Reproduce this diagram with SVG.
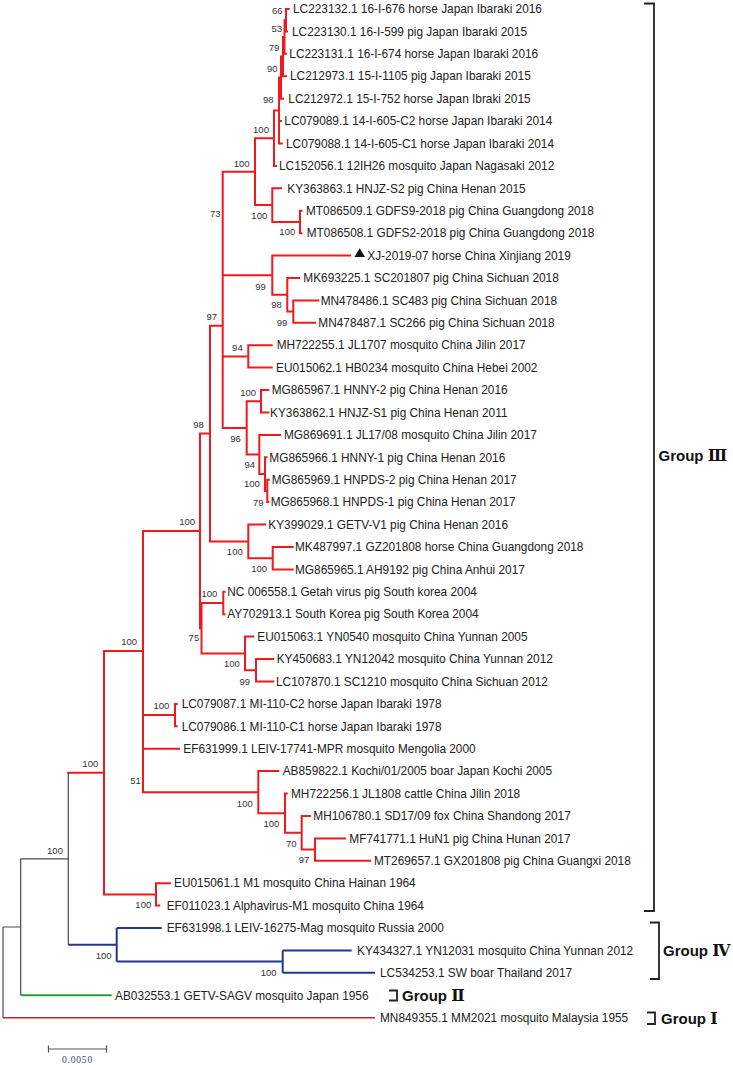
<svg xmlns="http://www.w3.org/2000/svg" width="733" height="1065" viewBox="0 0 733 1065">
<style>
.r{fill:none;stroke:#f0191e;stroke-width:2;stroke-linecap:square}
.k{fill:none;stroke:#4a4a4a;stroke-width:1.2}
.b{fill:none;stroke:#22359a;stroke-width:2}
.g{fill:none;stroke:#2e9a3a;stroke-width:2}
.dr{fill:none;stroke:#c0262c;stroke-width:1.6}
.br{fill:none;stroke:#222;stroke-width:1.8}
.t{font-family:"Liberation Sans",Arial,sans-serif;font-size:11.85px;fill:#222}
.bs{font-family:"Liberation Sans",Arial,sans-serif;font-size:9.5px;fill:#333;text-anchor:middle}
.grp{font-family:"Liberation Sans",Arial,sans-serif;font-size:15px;font-weight:bold;fill:#111}
.rn{font-family:"Liberation Serif","DejaVu Serif",serif;font-size:16px;font-weight:bold;fill:#111}
</style>
<g id="connectors">
<path class="r" d="M286,9V31.4M286,9H288.7M286,31.4H287
M284.5,20.2V53.8M284.5,20.2H286M284.5,53.8H286
M283,37V76.2M283,37H284.5M283,76.2H286
M281,56.6V98.7M281,56.6H283M281,98.7H283
M279,77.6V143.5M279,77.6H281M279,121.1H281M279,143.5H281.7
M274,110.6V165.9M274,110.6H279M274,165.9H276
M255,138.2V205.1M255,138.2H274M255,205.1H272.3
M272.3,188.3V222M272.3,188.3H281M272.3,222H300
M300,210.7V233.2M300,210.7H301.5M300,233.2H301.5
M222.7,171.7V427.9M222.7,171.7H255M222.7,275.2H272.3M222.7,356.4H248.3M222.7,427.9H246.7
M272.3,255.6V294.8M272.3,255.6H350M272.3,294.8H287.3
M287.3,278V311.6M287.3,278H299M287.3,311.6H293.3
M293.3,300.4V322.8M293.3,300.4H318.3M293.3,322.8H315
M248.3,345.2V367.6M248.3,345.2H271.7M248.3,367.6H271.7
M246.7,401.3V454.5M246.7,401.3H261M246.7,454.5H259.3
M261,390.1V412.5M261,390.1H268.3M261,412.5H268.3
M259.3,434.9V474.1M259.3,434.9H280M259.3,474.1H265
M265,457.3V490.9M265,457.3H266.5M265,490.9H267.3
M267.3,479.7V502.1M267.3,479.7H268.8M267.3,502.1H268.3
M210,325.7V541.4M210,325.7H222.7M210,541.4H248.3
M248.3,524.5V558.2M248.3,524.5H265M248.3,558.2H272.7
M272.7,547V569.4M272.7,547H292.7M272.7,569.4H292.7
M200,433.5V628.2M200,433.5H210M200,628.2H201.5
M201.5,603V653.4M201.5,603H223.3M201.5,653.4H245
M223.3,591.8V614.2M223.3,591.8H224.5M223.3,614.2H224.5
M245,636.6V670.2M245,636.6H253.3M245,670.2H256
M256,659V681.5M256,659H273.3M256,681.5H273.3
M143,530.9V792.2M143,530.9H200M143,715.1H175M143,748.7H179M143,792.2H258.3
M175,703.9V726.3M175,703.9H176.7M175,726.3H176.7
M258.3,771.1V813.2M258.3,771.1H278.3M258.3,813.2H285
M285,793.5V832.8M285,793.5H286.7M285,832.8H301.7
M301.7,815.9V849.6M301.7,815.9H310M301.7,849.6H315
M315,838.4V860.8M315,838.4H345M315,860.8H370
M104,651V894.4M104,651H143M104,894.4H156M68.3,772.7H104
M156,883.2V905.6M156,883.2H170M156,905.6H159.3"/>
<path class="k" d="M3,927V1017.7M3,927H20.7M20.7,858.8V995.3M20.7,858.8H68.3M68.3,772.7V944.8"/>
<path class="b" d="M68.3,944.8H116.7M116.7,928V961.6M116.7,928H161.7M116.7,961.6H282.7M282.7,950.4V972.8M282.7,950.4H351.7M282.7,972.8H375"/>
<path class="g" d="M20.7,995.3H111.7"/>
<path class="dr" d="M3,1017.7H375"/>
</g>
<g id="bootstrap" class="bs">
<text x="277.3" y="14.4">66</text>
<text x="276.7" y="31.7">53</text>
<text x="274" y="51.1">79</text>
<text x="272.3" y="72.4">90</text>
<text x="268.3" y="103.4">98</text>
<text x="261" y="133.4">100</text>
<text x="241.7" y="166.7">100</text>
<text x="215.3" y="217.4">73</text>
<text x="259.3" y="219.1">100</text>
<text x="287.3" y="235.1">100</text>
<text x="260.5" y="289.8">99</text>
<text x="276.6" y="308.4">98</text>
<text x="282" y="326.1">99</text>
<text x="211.7" y="320.1">97</text>
<text x="237.4" y="351.2">94</text>
<text x="248.2" y="395.7">100</text>
<text x="235.5" y="441.7">96</text>
<text x="249.7" y="468.4">94</text>
<text x="251.9" y="487.4">100</text>
<text x="258.3" y="505.7">79</text>
<text x="198.5" y="428.1">98</text>
<text x="187.2" y="525.1">100</text>
<text x="234.8" y="555.1">100</text>
<text x="259.2" y="571.7">100</text>
<text x="209.4" y="596.7">100</text>
<text x="193.9" y="641.1">75</text>
<text x="129.2" y="645.1">100</text>
<text x="231.9" y="667.4">100</text>
<text x="244.8" y="685.1">99</text>
<text x="161.4" y="709.4">100</text>
<text x="135.6" y="783.9">51</text>
<text x="244.8" y="806.7">100</text>
<text x="271.4" y="826.7">100</text>
<text x="291.2" y="847.1">70</text>
<text x="304.1" y="863.4">97</text>
<text x="90.3" y="766.6">100</text>
<text x="55" y="854.1">100</text>
<text x="143.3" y="908">100</text>
<text x="103.6" y="959.2">100</text>
<text x="268.6" y="976.1">100</text>
</g>
<g id="taxa" class="t">
<g id="n0"><text x="293" y="13.2">LC223132.1 16-I-676 horse Japan Ibaraki 2016</text></g>
<g id="n1"><text x="292" y="35.6">LC223130.1 16-I-599 pig Japan Ibaraki 2015</text></g>
<g id="n2"><text x="289.3" y="58">LC223131.1 16-I-674 horse Japan Ibaraki 2016</text></g>
<g id="n3"><text x="290" y="80.4">LC212973.1 15-I-1105 pig Japan Ibaraki 2015</text></g>
<g id="n4"><text x="288.3" y="102.9">LC212972.1 15-I-752 horse Japan Ibraki 2015</text></g>
<g id="n5"><text x="284.3" y="125.3">LC079089.1 14-I-605-C2 horse Japan Ibaraki 2014</text></g>
<g id="n6"><text x="286" y="147.7">LC079088.1 14-I-605-C1 horse Japan Ibaraki 2014</text></g>
<g id="n7"><text x="279" y="170.1">LC152056.1 12IH26 mosquito Japan Nagasaki 2012</text></g>
<g id="n8"><text x="287.3" y="192.5">KY363863.1 HNJZ-S2 pig China Henan 2015</text></g>
<g id="n9"><text x="306" y="214.9">MT086509.1 GDFS9-2018 pig China Guangdong 2018</text></g>
<g id="n10"><text x="306.7" y="237.4">MT086508.1 GDFS2-2018 pig China Guangdong 2018</text></g>
<g id="n11"><polygon points="354.5,257 365,257 359.7,248.3" fill="#111"/><text x="367.3" y="259.8">XJ-2019-07 horse China Xinjiang 2019</text></g>
<g id="n12"><text x="303.3" y="282.2">MK693225.1 SC201807 pig China Sichuan 2018</text></g>
<g id="n13"><text x="320.7" y="304.6">MN478486.1 SC483 pig China Sichuan 2018</text></g>
<g id="n14"><text x="318.3" y="327">MN478487.1 SC266 pig China Sichuan 2018</text></g>
<g id="n15"><text x="276.7" y="349.4">MH722255.1 JL1707 mosquito China Jilin 2017</text></g>
<g id="n16"><text x="276" y="371.8">EU015062.1 HB0234 mosquito China Hebei 2002</text></g>
<g id="n17"><text x="271.7" y="394.3">MG865967.1 HNNY-2 pig China Henan 2016</text></g>
<g id="n18"><text x="270" y="416.7">KY363862.1 HNJZ-S1 pig China Henan 2011</text></g>
<g id="n19"><text x="284" y="439.1">MG869691.1 JL17/08 mosquito China Jilin 2017</text></g>
<g id="n20"><text x="269.3" y="461.5">MG865966.1 HNNY-1 pig China Henan 2016</text></g>
<g id="n21"><text x="271.7" y="483.9">MG865969.1 HNPDS-2 pig China Henan 2017</text></g>
<g id="n22"><text x="270.7" y="506.3">MG865968.1 HNPDS-1 pig China Henan 2017</text></g>
<g id="n23"><text x="268.3" y="528.7">KY399029.1 GETV-V1 pig China Henan 2016</text></g>
<g id="n24"><text x="295" y="551.2">MK487997.1 GZ201808 horse China Guangdong 2018</text></g>
<g id="n25"><text x="295" y="573.6">MG865965.1 AH9192 pig China Anhui 2017</text></g>
<g id="n26"><text x="227.3" y="596">NC 006558.1 Getah virus pig South korea 2004</text></g>
<g id="n27"><text x="227.3" y="618.4">AY702913.1 South Korea pig South Korea 2004</text></g>
<g id="n28"><text x="257.3" y="640.8">EU015063.1 YN0540 mosquito China Yunnan 2005</text></g>
<g id="n29"><text x="276.7" y="663.2">KY450683.1 YN12042 mosquito China Yunnan 2012</text></g>
<g id="n30"><text x="276" y="685.7">LC107870.1 SC1210 mosquito China Sichuan 2012</text></g>
<g id="n31"><text x="181.7" y="708.1">LC079087.1 MI-110-C2 horse Japan Ibaraki 1978</text></g>
<g id="n32"><text x="181.7" y="730.5">LC079086.1 MI-110-C1 horse Japan Ibaraki 1978</text></g>
<g id="n33"><text x="183.3" y="752.9">EF631999.1 LEIV-17741-MPR mosquito Mengolia 2000</text></g>
<g id="n34"><text x="282.7" y="775.3">AB859822.1 Kochi/01/2005 boar Japan Kochi 2005</text></g>
<g id="n35"><text x="291" y="797.7">MH722256.1 JL1808 cattle China Jilin 2018</text></g>
<g id="n36"><text x="313.3" y="820.1">MH106780.1 SD17/09 fox China Shandong 2017</text></g>
<g id="n37"><text x="349.3" y="842.6">MF741771.1 HuN1 pig China Hunan 2017</text></g>
<g id="n38"><text x="374" y="865">MT269657.1 GX201808 pig China Guangxi 2018</text></g>
<g id="n39"><text x="174" y="887.4">EU015061.1 M1 mosquito China Hainan 1964</text></g>
<g id="n40"><text x="166.7" y="909.8">EF011023.1 Alphavirus-M1 mosquito China 1964</text></g>
<g id="n41"><text x="166.7" y="932.2">EF631998.1 LEIV-16275-Mag mosquito Russia 2000</text></g>
<g id="n42"><text x="357" y="954.6">KY434327.1 YN12031 mosquito China Yunnan 2012</text></g>
<g id="n43"><text x="380" y="977">LC534253.1 SW boar Thailand 2017</text></g>
<g id="n44"><text x="115" y="999.5">AB032553.1 GETV-SAGV mosquito Japan 1956</text></g>
<g id="n45"><text x="380" y="1021.9">MN849355.1 MM2021 mosquito Malaysia 1955</text></g>
</g>
<g id="groups">
<path class="br" d="M644,3.5H654V911H644"/>
<text class="grp" x="658.5" y="461">Group <tspan class="rn">Ⅲ</tspan></text>
<path class="br" d="M650,922.5H659V979H650"/>
<text class="grp" x="663" y="955.5">Group <tspan class="rn">Ⅳ</tspan></text>
<path class="br" d="M389,990.5H397V1000.5H389"/>
<text class="grp" x="402" y="1000.5">Group <tspan class="rn">Ⅱ</tspan></text>
<path class="br" d="M647,1012.5H655V1024H647"/>
<text class="grp" x="661" y="1023.5">Group <tspan class="rn">Ⅰ</tspan></text>
</g>
<g id="scale">
<path d="M48.5,1049H106.5M48.5,1045.5V1052.5M106.5,1045.5V1052.5" fill="none" stroke="#555" stroke-width="1.2"/>
<text x="77.5" y="1062.5" font-family="'Liberation Serif',serif" font-size="9.5" letter-spacing="0.8" fill="#2c4a78" text-anchor="middle">0.0050</text>
</g>
</svg>
